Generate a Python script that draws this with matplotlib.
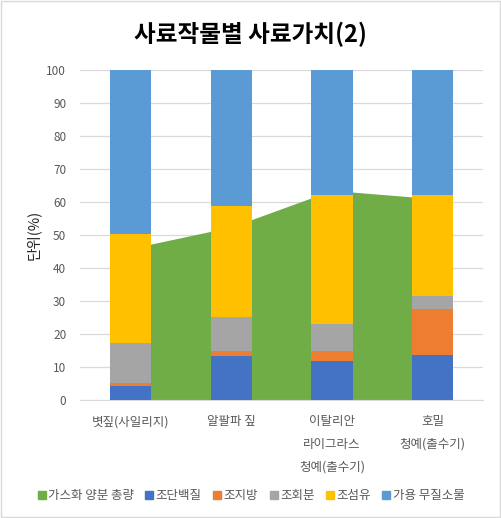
import matplotlib
matplotlib.use("Agg")
import matplotlib.pyplot as plt
import numpy as np
from matplotlib.lines import Line2D
from matplotlib.patches import Rectangle

plt.rcParams['font.family'] = ['Noto Sans CJK KR', 'DejaVu Sans']

# Data
categories = ["볏짚(사일리지)", "알팔파 짚", "이탈리안\n라이그라스\n청예(출수기)", "호밀\n청예(출수기)"]
tdn = [45.9, 52.4, 63.5, 61.0]          # 가스화 양분 총량
protein = [4.2, 13.3, 11.8, 13.6]       # 조단백질
fat = [1.0, 1.5, 3.0, 14.0]             # 조지방
ash = [12.1, 10.4, 8.2, 3.9]            # 조회분
fiber = [33.0, 33.7, 39.1, 30.6]        # 조섬유
nfe = [49.7, 41.1, 37.9, 37.9]          # 가용 무질소물
yticks = list(range(0, 101, 10))

series = [
    ("조단백질", protein, "#4472C4"),
    ("조지방", fat, "#ED7D31"),
    ("조회분", ash, "#A5A5A5"),
    ("조섬유", fiber, "#FFC000"),
    ("가용 무질소물", nfe, "#5B9BD5"),
]

fig = plt.figure(figsize=(5.01, 5.18), dpi=100)
ax = fig.add_axes([0.160, 0.228, 0.804, 0.637])

x = np.arange(len(categories))

# green area behind the bars
ax.fill_between(x, 0, tdn, color="#70AD47", linewidth=0, zorder=2)

bottom = np.zeros(len(categories))
for name, vals, col in series:
    ax.bar(x, vals, width=0.41, bottom=bottom, color=col, zorder=3)
    bottom += np.array(vals)

ax.set_xlim(-0.5, len(categories) - 0.5)
ax.set_ylim(0, 100)
ax.set_yticks(yticks)
ax.set_xticks(x)
ax.set_xticklabels(categories, fontsize=9, color="#595959", linespacing=1.95, va="top")
ax.tick_params(axis="y", labelsize=8.5, labelcolor="#595959", length=0, pad=10)
ax.tick_params(axis="x", length=0, pad=11)
ax.grid(axis="y", color="#d9d9d9", linewidth=0.9, zorder=0)
ax.set_axisbelow(True)
for s in ["top", "right", "left"]:
    ax.spines[s].set_visible(False)
ax.spines["bottom"].set_color("#d9d9d9")

ax.set_ylabel("단위(%)", fontsize=10.5, color="#262626", labelpad=4)

fig.text(0.5, 0.933, "사료작물별 사료가치(2)", ha="center", va="center",
         fontsize=17, fontweight="bold", color="#000000")

handles = [Line2D([], [], marker="s", linestyle="none", color="#70AD47", markersize=5.5)]
labels = ["가스화 양분 총량"]
for name, vals, col in series:
    handles.append(Line2D([], [], marker="s", linestyle="none", color=col, markersize=5.5))
    labels.append(name)
fig.legend(handles, labels, loc="center", bbox_to_anchor=(0.5, 0.043), ncol=6,
           frameon=False, fontsize=9, handletextpad=0.1, columnspacing=0.85,
           handlelength=0.8, labelcolor="#595959")

fig.patches.append(Rectangle((0.002, 0.002), 0.996, 0.996, transform=fig.transFigure,
                             fill=False, edgecolor="#d9d9d9", linewidth=1))

fig.savefig("out.png", dpi=100)
